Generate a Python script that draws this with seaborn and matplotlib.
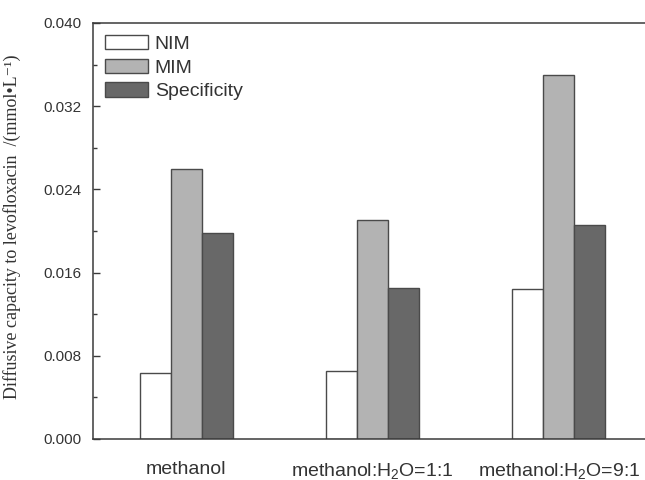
import matplotlib
matplotlib.use("Agg")
import matplotlib.pyplot as plt
import seaborn as sns
import pandas as pd
from matplotlib.ticker import MultipleLocator

categories = ["methanol", "methanol:H$_2$O=1:1", "methanol:H$_2$O=9:1"]
series_names = ["NIM", "MIM", "Specificity"]
nim = [0.0063, 0.0065, 0.0144]
mim = [0.0260, 0.0211, 0.0350]
spec = [0.0198, 0.0145, 0.0206]
colors = ["#ffffff", "#b3b3b3", "#686868"]

rows = []
for name, vals in zip(series_names, [nim, mim, spec]):
    for c, v in zip(categories, vals):
        rows.append({"solvent": c, "series": name, "value": v})
df = pd.DataFrame(rows)

sns.set_style("ticks")
plt.rcParams["font.family"] = ["Liberation Sans", "DejaVu Sans"]
plt.rcParams["mathtext.fontset"] = "custom"
plt.rcParams["mathtext.rm"] = "Liberation Sans"
plt.rcParams["mathtext.it"] = "Liberation Sans:italic"
plt.rcParams["mathtext.bf"] = "Liberation Sans:bold"
plt.rcParams["ytick.direction"] = "in"
plt.rcParams["xtick.direction"] = "in"

fig = plt.figure(figsize=(6.45, 4.8), dpi=100)
ax = fig.add_axes([93/645, 41/480, 559/645, 416/480])

sns.barplot(data=df, x="solvent", y="value", hue="series", order=categories,
            hue_order=series_names, palette=colors, width=0.5, gap=0,
            edgecolor="#4a4a4a", linewidth=1.0, saturation=1, ax=ax, errorbar=None)

ax.set_xlim(-0.5, 2.5)
ax.set_ylim(0, 0.040)
ax.yaxis.set_major_locator(MultipleLocator(0.008))
ax.yaxis.set_minor_locator(MultipleLocator(0.004))
ax.yaxis.set_major_formatter(matplotlib.ticker.FormatStrFormatter("%.3f"))

for s in ax.spines.values():
    s.set_visible(True)
    s.set_color("#3a3a3a")
    s.set_linewidth(1.1)

ax.tick_params(axis="y", which="major", direction="in", length=5, width=1, color="#3a3a3a",
               labelsize=11, labelcolor="#333333", pad=8, left=True, right=False)
ax.tick_params(axis="y", which="minor", direction="in", length=3, width=1, color="#3a3a3a",
               left=True, right=False)
ax.tick_params(axis="x", which="both", length=0, labelsize=14, labelcolor="#333333", pad=15.5)

ax.set_xlabel("")
ax.set_ylabel("Diffusive capacity to levofloxacin  /(mmol\u2022L\u207b\u00b9)",
              family=["Liberation Serif", "DejaVu Serif"], fontsize=13, color="#333333")
ax.yaxis.set_label_coords(-0.129, 0.51)

leg = ax.legend(loc="upper left", bbox_to_anchor=(0.0215, 0.972), borderaxespad=0, borderpad=0,
                frameon=False, fontsize=14, handlelength=2.2, handleheight=0.77,
                handletextpad=0.36, labelspacing=0.3)
for t in leg.get_texts():
    t.set_color("#333333")

fig.savefig("out.png", dpi=100)
